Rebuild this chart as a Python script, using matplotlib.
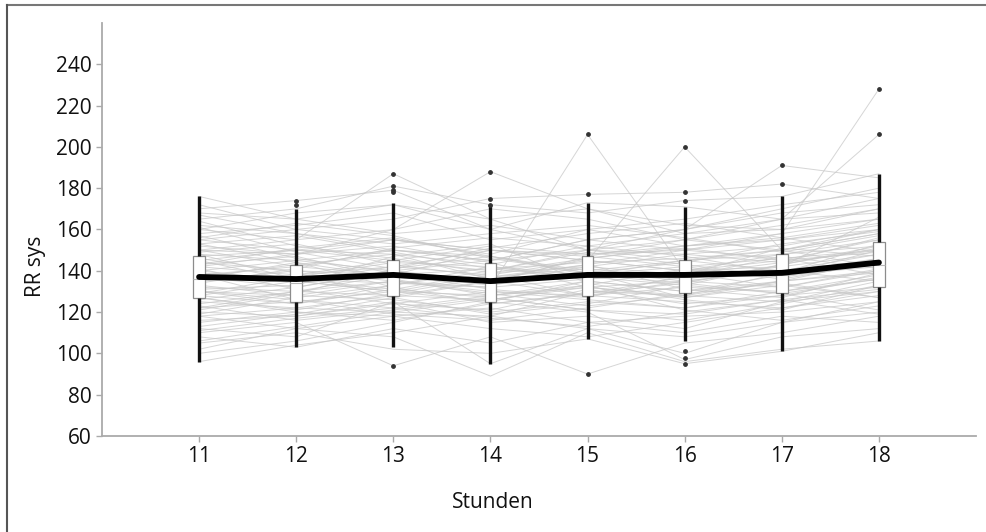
'''plot.py

   RR sys per hour: individual courses, box plots and the mean line.
'''

import numpy as np
import matplotlib
matplotlib.use('Agg')
import matplotlib.pyplot as plt
from matplotlib.lines import Line2D

plt.rcParams['font.family'] = ['Open Sans', 'DejaVu Sans']


#
#  Data
#
hours = [11, 12, 13, 14, 15, 16, 17, 18]

# Box statistics per hour
q1     = [127, 125, 128, 125, 128, 129, 129, 132]
med    = [136, 134, 137, 134, 137, 137, 138, 143]
q3     = [147, 143, 145, 144, 147, 145, 148, 154]
wlo    = [96, 103, 103, 95, 107, 106, 101, 106]
whi    = [176, 170, 173, 172, 173, 171, 176, 187]
means  = [137, 136, 138, 135, 138, 138, 139, 144]

# Outliers (hour, value)
out_x = [12, 12, 13, 13, 13, 13, 13, 14, 14, 14, 15, 15, 15,
         16, 16, 16, 16, 16, 16, 17, 17, 18, 18]
out_y = [174, 172, 187, 181, 179, 178, 94, 188, 175, 172, 206, 177, 90,
         200, 178, 174, 101, 98, 95, 191, 182, 228, 206]

# Individual courses (one row per patient, hours 11..18)
courses = [
    [176, 165, 172, 160, 150, 155, 162, 170],
    [96, 104, 110, 118, 112, 108, 115, 120],
    [150, 148, 160, 188, 170, 158, 165, 175],
    [130, 128, 135, 132, 206, 140, 138, 150],
    [140, 135, 142, 150, 145, 200, 150, 160],
    [120, 118, 125, 95, 112, 100, 115, 125],
    [145, 150, 155, 148, 160, 152, 158, 228],
    [135, 140, 138, 150, 147, 155, 165, 206],
    [160, 155, 187, 165, 150, 160, 170, 180],
    [110, 115, 94, 108, 90, 105, 110, 118],
    [138, 142, 150, 145, 155, 160, 191, 185],
    [155, 160, 165, 175, 177, 178, 182, 175],
    [125, 122, 120, 118, 130, 128, 125, 135],
    [100, 106, 115, 125, 120, 97, 108, 112],
    [148, 145, 140, 135, 138, 142, 146, 150],
    [132, 130, 128, 126, 132, 135, 140, 145],
    [165, 170, 181, 172, 168, 174, 176, 187],
    [118, 112, 108, 89, 110, 96, 102, 106],
    [142, 138, 145, 140, 150, 148, 152, 160],
    [128, 135, 130, 138, 128, 132, 130, 138],
    [170, 174, 179, 160, 173, 171, 165, 168],
    [105, 110, 102, 100, 107, 95, 101, 110],
    [152, 148, 155, 150, 145, 140, 148, 155],
    [122, 125, 130, 128, 135, 130, 135, 140],
    [137, 132, 140, 134, 142, 138, 144, 150],
    [158, 162, 168, 155, 160, 165, 172, 178],
    [115, 120, 118, 122, 115, 118, 120, 125],
    [144, 140, 135, 130, 128, 135, 140, 148],
    [128, 124, 133, 142, 138, 145, 150, 142],
    [162, 158, 150, 145, 155, 150, 158, 165],
    [112, 108, 125, 115, 118, 112, 125, 130],
    [150, 155, 160, 170, 165, 155, 150, 158],
    [133, 128, 126, 120, 125, 122, 130, 136],
    [147, 150, 145, 152, 148, 150, 155, 162],
    [124, 130, 138, 133, 140, 135, 132, 140],
    [168, 165, 158, 162, 155, 160, 168, 172],
    [108, 103, 112, 105, 115, 110, 118, 115],
    [140, 145, 150, 147, 140, 145, 148, 152],
    [130, 126, 122, 128, 132, 128, 135, 145],
    [155, 150, 148, 143, 152, 158, 160, 170],
    [118, 122, 128, 135, 128, 125, 122, 130],
    [135, 138, 142, 138, 145, 140, 142, 148],
    [145, 135, 130, 125, 135, 130, 138, 142],
    [126, 132, 140, 145, 150, 145, 140, 135],
    [160, 168, 172, 165, 170, 162, 160, 165],
    [102, 112, 118, 112, 108, 115, 122, 128],
    [139, 136, 134, 132, 136, 140, 145, 155],
    [150, 142, 138, 141, 144, 146, 150, 158],
    [116, 118, 124, 130, 126, 122, 128, 132],
    [172, 160, 155, 150, 148, 152, 155, 160],
    [143, 147, 136, 128, 133, 141, 137, 146],
    [127, 121, 129, 137, 143, 131, 127, 139],
    [153, 157, 149, 141, 137, 133, 143, 151],
    [121, 129, 141, 147, 139, 127, 133, 127],
    [136, 144, 132, 124, 129, 137, 147, 141],
    [164, 152, 146, 139, 142, 148, 144, 156],
    [113, 119, 127, 119, 124, 133, 129, 121],
    [146, 139, 127, 135, 146, 152, 156, 163],
    [131, 133, 147, 153, 134, 126, 121, 133],
    [157, 146, 139, 131, 127, 138, 151, 147],
    [119, 127, 133, 140, 149, 143, 137, 143],
    [141, 131, 124, 121, 131, 124, 128, 137],
    [134, 141, 151, 156, 152, 147, 139, 153],
    [123, 116, 121, 127, 121, 119, 126, 131],
    [149, 153, 143, 137, 141, 136, 142, 166],
    [138, 126, 119, 116, 122, 129, 134, 127],
    [156, 163, 157, 146, 139, 144, 153, 159],
    [129, 137, 144, 142, 136, 139, 132, 141],
    [106, 113, 120, 126, 133, 121, 116, 123],
    [161, 149, 141, 151, 158, 163, 156, 149],
    [142, 148, 152, 144, 132, 127, 135, 139],
    [127, 120, 116, 124, 129, 134, 143, 152],
    [148, 136, 131, 127, 121, 116, 124, 133],
    [167, 158, 153, 158, 162, 156, 149, 157],
    [111, 117, 122, 117, 113, 120, 126, 119],
    [137, 143, 148, 136, 143, 150, 146, 138],
    [122, 130, 135, 129, 123, 128, 139, 146],
    [153, 144, 137, 134, 147, 142, 136, 144],
    [143, 151, 156, 147, 138, 134, 129, 136],
    [130, 124, 131, 139, 146, 151, 145, 149],
]


#
#  Plot
#
fig = plt.figure(figsize=(9.86, 5.32), dpi=100)
ax = fig.add_axes([0.1034, 0.1805, 0.8865, 0.7763])

# Spaghetti lines
for row in courses:
    ax.plot(hours, row, color='#c8c8c8', lw=0.7, alpha=0.75, zorder=1)

# Box plots
stats = []
for i in range(len(hours)):
    stats.append({'q1': q1[i], 'med': med[i], 'q3': q3[i],
                  'whislo': wlo[i], 'whishi': whi[i], 'fliers': []})
ax.bxp(stats, positions=hours, widths=0.12, showcaps=False, showfliers=False,
       patch_artist=True, manage_ticks=False,
       boxprops=dict(facecolor='white', edgecolor='#8c8c8c', lw=0.9),
       medianprops=dict(color='#b8b8b8', lw=0.8),
       whiskerprops=dict(color='#111111', lw=2.4, solid_capstyle='butt'),
       zorder=3)

# Outliers
ax.scatter(out_x, out_y, s=6, color='#333333', zorder=4)

# Mean line
ax.plot(hours, means, color='black', lw=4.2, solid_capstyle='round', zorder=5)

ax.set_xlim(10, 19)
ax.set_ylim(60, 260)
ax.set_xticks(hours)
ax.set_yticks(range(60, 241, 20))

for side in ['top', 'right']:
    ax.spines[side].set_visible(False)
for side in ['left', 'bottom']:
    ax.spines[side].set_color('#aaaaaa')
    ax.spines[side].set_linewidth(1.3)
ax.tick_params(colors='#aaaaaa', labelcolor='#111111', labelsize=15,
               length=4, width=1)

fig.text(0.036, 0.5, 'RR sys', rotation=90, ha='center', va='center',
         fontsize=15, color='#111111')
fig.text(0.5, 0.056, 'Stunden', ha='center', va='center',
         fontsize=15, color='#111111')

# Frame of the figure (top and left only visible)
fig.add_artist(Line2D([7/986, 1.0], [1 - 5/532, 1 - 5/532],
                      transform=fig.transFigure, color='#777777', lw=1.5))
fig.add_artist(Line2D([7/986, 7/986], [0.0, 1 - 5/532],
                      transform=fig.transFigure, color='#555555', lw=1.5))

fig.savefig('out.png', dpi=100)
